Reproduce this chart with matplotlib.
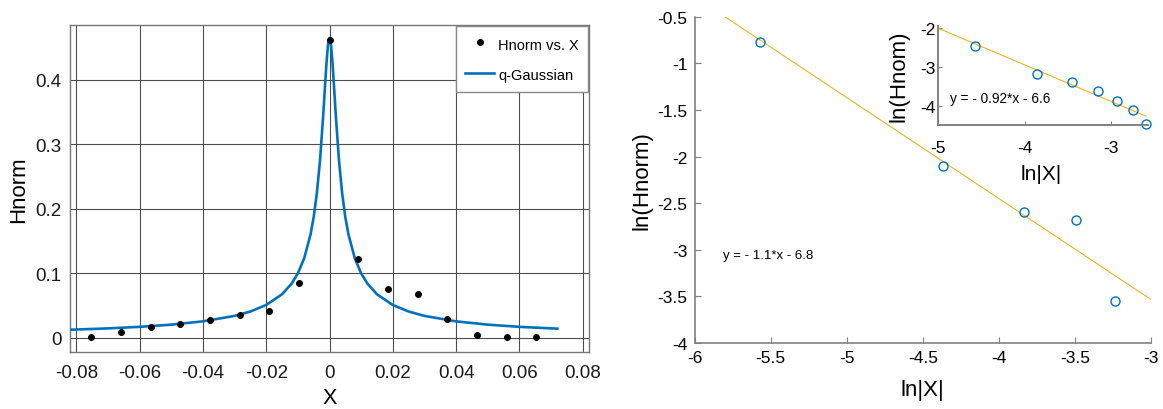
import matplotlib
matplotlib.use("Agg")
import matplotlib.pyplot as plt

plt.rcParams['font.family'] = ['Liberation Sans', 'DejaVu Sans']

# left panel: normalised H against X
x_pts = [-0.0753, -0.0659, -0.0565, -0.0471, -0.0377, -0.0284, -0.0190, -0.0096,
         0.0, 0.0091, 0.0185, 0.0279, 0.0371, 0.0466, 0.0560, 0.0654]
h_pts = [0.002, 0.009, 0.017, 0.022, 0.028, 0.035, 0.042, 0.085,
         0.462, 0.122, 0.075, 0.068, 0.029, 0.005, 0.002, 0.001]

# q-Gaussian curve, points
x_fit = [-0.082, -0.070, -0.060, -0.050, -0.040, -0.030, -0.025, -0.020, -0.015,
         -0.012, -0.010, -0.008, -0.006, -0.005, -0.004, -0.003, -0.002, -0.0015,
         -0.001, -0.0005, -0.00025, 0.0, 0.00025, 0.0005, 0.001, 0.0015, 0.002,
         0.003, 0.004, 0.005, 0.006, 0.008, 0.010, 0.012, 0.015, 0.020, 0.025,
         0.030, 0.040, 0.050, 0.060, 0.072]
h_fit = [0.0125, 0.0146, 0.0170, 0.0204, 0.0255, 0.0340, 0.0408, 0.0509, 0.0675,
         0.0839, 0.0999, 0.1233, 0.160, 0.187, 0.224, 0.275, 0.344, 0.384,
         0.423, 0.453, 0.462, 0.465, 0.462, 0.453, 0.423, 0.384, 0.344,
         0.275, 0.224, 0.187, 0.160, 0.1233, 0.0999, 0.0839, 0.0675, 0.0509, 0.0408,
         0.0340, 0.0255, 0.0204, 0.0170, 0.0142]

# right panel: log-log of the left wing
lnx_main = [-5.569, -4.370, -3.836, -3.493, -3.237]
lnh_main = [-0.77, -2.10, -2.595, -2.685, -3.554]
line_main_x = [-5.80, -3.0]
line_main_y = [-0.50, -3.533]

lnx_ins = [-4.571, -3.861, -3.452, -3.158, -2.931, -2.749, -2.598]
lnh_ins = [-2.458, -3.186, -3.381, -3.610, -3.864, -4.110, -4.470]
line_ins_x = [-5.0, -2.598]
line_ins_y = [-2.017, -4.263]

blue = '#0072BD'
gold = '#EDB120'
spine_grey = '#808080'

fig = plt.figure(figsize=(11.63, 4.10), dpi=100)

# ---- left
ax = fig.add_axes([70/1163, 57/410, 519/1163, 327/410])
ax.plot(x_fit, h_fit, color=blue, lw=1.9, label='q-Gaussian', zorder=3)
ax.plot(x_pts, h_pts, 'o', color='black', ms=4, label='Hnorm vs. X', zorder=4)
ax.set_xlim(-0.082, 0.082)
ax.set_ylim(-0.022, 0.485)
ax.set_xticks([-0.08, -0.06, -0.04, -0.02, 0, 0.02, 0.04, 0.06, 0.08])
ax.set_xticklabels(['-0.08', '-0.06', '-0.04', '-0.02', '0', '0.02', '0.04', '0.06', '0.08'])
ax.set_yticks([0, 0.1, 0.2, 0.3, 0.4])
ax.set_yticklabels(['0', '0.1', '0.2', '0.3', '0.4'])
ax.grid(True, color='#4d4d4d', lw=0.8)
ax.set_axisbelow(True)
ax.tick_params(length=0, labelsize=13.5, labelcolor='#1a1a1a')
ax.tick_params(axis='x', pad=9)
ax.tick_params(axis='y', pad=6)
for s in ax.spines.values():
    s.set_color('#777777')
    s.set_linewidth(1.0)
ax.set_xlabel('X', fontsize=15.5)
ax.set_ylabel('Hnorm', fontsize=16)
ax.xaxis.set_label_coords(0.50, -0.108)
ax.yaxis.set_label_coords(-0.079, 0.50)
h, l = ax.get_legend_handles_labels()
leg = ax.legend(h[::-1], l[::-1], loc='upper right', fontsize=10.5, fancybox=False,
                framealpha=1, edgecolor='#888888', borderaxespad=0.1,
                handlelength=2.0, handletextpad=0.25, handleheight=1.5,
                labelspacing=0.87, borderpad=0.6)
leg.get_frame().set_linewidth(1.0)

# ---- right main
ax2 = fig.add_axes([694.6/1163, 66/410, 456.4/1163, 326.2/410])
ax2.plot(line_main_x, line_main_y, color=gold, lw=0.8)
ax2.plot(lnx_main, lnh_main, 'o', mfc='none', mec=blue, ms=6.5, mew=1.0)
ax2.set_xlim(-6, -3)
ax2.set_ylim(-4, -0.5)
ax2.set_xticks([-6, -5.5, -5, -4.5, -4, -3.5, -3])
ax2.set_xticklabels(['-6', '-5.5', '-5', '-4.5', '-4', '-3.5', '-3'])
ax2.set_yticks([-4, -3.5, -3, -2.5, -2, -1.5, -1, -0.5])
ax2.set_yticklabels(['-4', '-3.5', '-3', '-2.5', '-2', '-1.5', '-1', '-0.5'])
ax2.spines['top'].set_visible(False)
ax2.spines['right'].set_visible(False)
for s in ('left', 'bottom'):
    ax2.spines[s].set_color(spine_grey)
    ax2.spines[s].set_linewidth(1.2)
ax2.tick_params(direction='in', length=4, color=spine_grey, labelsize=12.5, pad=5)
ax2.set_xlabel('ln|X|', fontsize=16)
ax2.set_ylabel('ln(Hnorm)', fontsize=16)
ax2.xaxis.set_label_coords(0.498, -0.110)
ax2.yaxis.set_label_coords(-0.093, 0.50)
ax2.text(-5.815, -3.06, 'y = - 1.1*x - 6.8', fontsize=9.5, va='center', ha='left')

# ---- inset
ax3 = fig.add_axes([938.3/1163, 284.3/410, 210.2/1163, 99/410])
ax3.plot(line_ins_x, line_ins_y, color=gold, lw=0.8)
ax3.plot(lnx_ins, lnh_ins, 'o', mfc='none', mec=blue, ms=6.5, mew=1.0, clip_on=False)
ax3.set_xlim(-5, -2.57)
ax3.set_ylim(-4.48, -1.95)
ax3.set_xticks([-5, -4, -3])
ax3.set_xticklabels(['-5', '-4', '-3'])
ax3.set_yticks([-4, -3, -2])
ax3.set_yticklabels(['-4', '-3', '-2'])
ax3.spines['top'].set_visible(False)
ax3.spines['right'].set_visible(False)
for s in ('left', 'bottom'):
    ax3.spines[s].set_color(spine_grey)
    ax3.spines[s].set_linewidth(1.4)
ax3.tick_params(direction='in', length=3, color=spine_grey, labelsize=12.5)
ax3.tick_params(axis='x', pad=11)
ax3.tick_params(axis='y', pad=2)
ax3.set_xlabel('ln|X|', fontsize=15)
ax3.set_ylabel('ln(Hnom)', fontsize=16)
ax3.xaxis.set_label_coords(0.492, -0.397)
ax3.yaxis.set_label_coords(-0.135, 0.50)
ax3.text(-4.865, -3.797, 'y = - 0.92*x - 6.6', fontsize=9.8, va='center', ha='left')

fig.savefig('out.png', dpi=100)
